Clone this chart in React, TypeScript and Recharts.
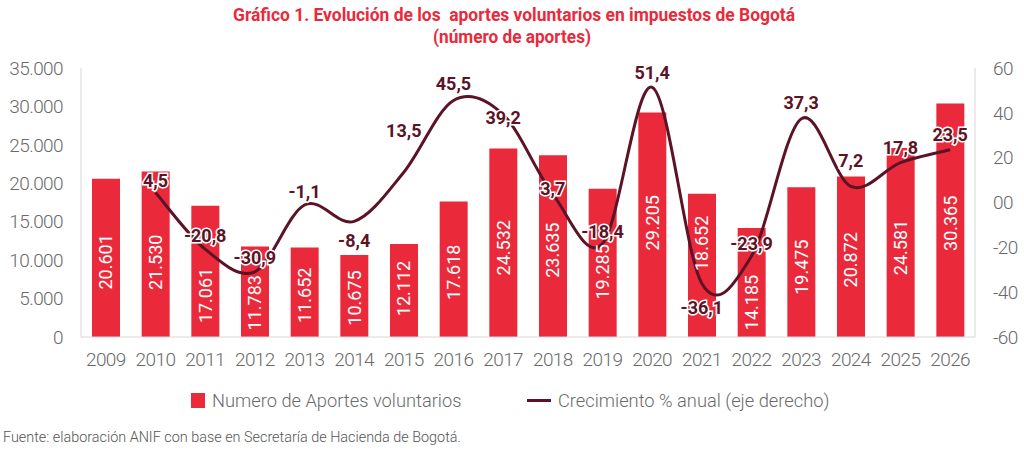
import { ComposedChart, Bar, Line, XAxis, YAxis, LabelList } from 'recharts';

const years = ['2009', '2010', '2011', '2012', '2013', '2014', '2015', '2016', '2017', '2018', '2019', '2020', '2021', '2022', '2023', '2024', '2025', '2026'];
const aportes = [20601, 21530, 17061, 11783, 11652, 10675, 12112, 17618, 24532, 23635, 19285, 29205, 18652, 14185, 19475, 20872, 24581, 30365];
const crecimiento = [null, 4.5, -20.8, -30.9, -1.1, -8.4, 13.5, 45.5, 39.2, 3.7, -18.4, 51.4, -36.1, -23.9, 37.3, 7.2, 17.8, 23.5];
const leftTicks = [0, 5000, 10000, 15000, 20000, 25000, 30000, 35000];
const rightTicks = [-60, -40, -20, 0, 20, 40, 60];

// label nudges (px) so the numbers sit where the original puts them
const lineLabelDy = [0, -12, -14, -14, -13, 19, -42, -17, 3, -6, -12, -15, 24, -13, -16, -26, -15, -15];
const barLabelDy = [4, 8, 24, 11, 3, 2, -2, 3, 5, 4, 9, -2, -22, 20, 5, 3, 5, 3];

const data = years.map((year, i) => ({ year, aportes: aportes[i], crecimiento: crecimiento[i] }));

const RED = '#ea293b';
const WINE = '#5c1326';
const GRAY = '#6a6a6a';
const FONT = 'Roboto, "Noto Sans", sans-serif';

const miles = (v: number) => String(v).replace(/\B(?=(\d{3})+(?!\d))/g, '.');
const coma = (v: number) => v.toFixed(1).replace('.', ',');

// smoothed line like the spreadsheet one (catmull-rom through the points)
function smooth(context: any) {
  let pts: number[][] = [];
  return {
    areaStart() {},
    areaEnd() {},
    lineStart() {
      pts = [];
    },
    point(x: number, y: number) {
      pts.push([+x, +y]);
    },
    lineEnd() {
      const n = pts.length;
      if (!n) return;
      context.moveTo(pts[0][0], pts[0][1]);
      for (let i = 0; i < n - 1; i++) {
        const p0 = pts[Math.max(i - 1, 0)];
        const p1 = pts[i];
        const p2 = pts[i + 1];
        const p3 = pts[Math.min(i + 2, n - 1)];
        context.bezierCurveTo(
          p1[0] + (p2[0] - p0[0]) / 6,
          p1[1] + (p2[1] - p0[1]) / 6,
          p2[0] - (p3[0] - p1[0]) / 6,
          p2[1] - (p3[1] - p1[1]) / 6,
          p2[0],
          p2[1]
        );
      }
    },
  };
}

const BarValue = (props: any) => {
  const { x, y, width, height, value, index } = props;
  const cx = x + width / 2;
  const cy = y + height / 2 + (barLabelDy[index] || 0);
  return (
    <text
      x={cx}
      y={cy}
      transform={`rotate(-90, ${cx}, ${cy})`}
      textAnchor="middle"
      dominantBaseline="central"
      fill="#fff"
      fontSize={18}
      fontFamily={FONT}
    >
      {miles(value)}
    </text>
  );
};

const LineValue = (props: any) => {
  const { x, y, value, index } = props;
  if (value === null || value === undefined || x == null || y == null) return null;
  return (
    <text
      x={x}
      y={y + (lineLabelDy[index] || 0)}
      textAnchor="middle"
      dominantBaseline="central"
      fill={WINE}
      stroke="#fff"
      strokeWidth={3}
      paintOrder="stroke"
      fontWeight="bold"
      fontSize={18}
      fontFamily={FONT}
    >
      {coma(value)}
    </text>
  );
};

export default function App() {
  const tick = { fill: GRAY, fontSize: 19, fontFamily: FONT, fontWeight: 300, letterSpacing: -0.6 };
  return (
    <div style={{ position: 'absolute', left: 0, top: 0, width: 1024, height: 451, background: '#fff', fontFamily: FONT }}>
      <svg width={1024} height={50} style={{ position: 'absolute', left: 0, top: 0 }}>
        <text x={233} y={21} textLength={562} lengthAdjust="spacingAndGlyphs" fill={RED} fontWeight="bold" fontSize={19} fontFamily={FONT} style={{ whiteSpace: 'pre' }}>
          {'Gráfico 1. Evolución de los  aportes voluntarios en impuestos de Bogotá'}
        </text>
        <text x={433} y={43} textLength={158} lengthAdjust="spacingAndGlyphs" fill={RED} fontWeight="bold" fontSize={19} fontFamily={FONT}>
          (número de aportes)
        </text>
      </svg>

      <div style={{ position: 'absolute', left: 0, top: 0 }}>
        <ComposedChart width={1024} height={451} data={data} margin={{ top: 68, right: 0, bottom: 84, left: 0 }}>
          <XAxis dataKey="year" height={30} axisLine={{ stroke: '#d6d6d6' }} tickLine={false} tick={tick} tickMargin={10} interval={0} />
          <YAxis
            yAxisId="left"
            width={81}
            domain={[0, 35000]}
            ticks={leftTicks}
            tickFormatter={miles}
            axisLine={{ stroke: '#d6d6d6' }}
            tickLine={false}
            tick={tick}
            tickMargin={12}
          />
          <YAxis
            yAxisId="right"
            orientation="right"
            width={49}
            domain={[-60, 60]}
            ticks={rightTicks}
            tickFormatter={(v: number) => (v === 0 ? '00' : String(v))}
            axisLine={{ stroke: '#d6d6d6' }}
            tickLine={false}
            tick={tick}
            tickMargin={12}
          />
          <Bar yAxisId="left" dataKey="aportes" fill={RED} barSize={28} isAnimationActive={false}>
            <LabelList dataKey="aportes" content={<BarValue />} />
          </Bar>
          <Line
            yAxisId="right"
            dataKey="crecimiento"
            type={smooth as any}
            stroke={WINE}
            strokeWidth={3}
            dot={false}
            activeDot={false}
            isAnimationActive={false}
          >
            <LabelList dataKey="crecimiento" content={<LineValue />} />
          </Line>
        </ComposedChart>
      </div>

      <div style={{ position: 'absolute', left: 191, top: 393, width: 14, height: 15, background: RED }} />
      <div style={{ position: 'absolute', left: 212, top: 389, fontSize: 18.3, fontWeight: 300, lineHeight: '24px', color: GRAY, whiteSpace: 'nowrap' }}>
        Numero de Aportes voluntarios
      </div>
      <div style={{ position: 'absolute', left: 527, top: 399, width: 24, height: 3, background: WINE }} />
      <div style={{ position: 'absolute', left: 558, top: 389, fontSize: 18.3, fontWeight: 300, lineHeight: '24px', color: GRAY, whiteSpace: 'nowrap' }}>
        Crecimiento % anual (eje derecho)
      </div>
      <div style={{ position: 'absolute', left: 3, top: 429, fontSize: 14.4, fontWeight: 300, lineHeight: '18px', color: '#555', whiteSpace: 'nowrap' }}>
        Fuente: elaboración ANIF con base en Secretaría de Hacienda de Bogotá.
      </div>
    </div>
  );
}
